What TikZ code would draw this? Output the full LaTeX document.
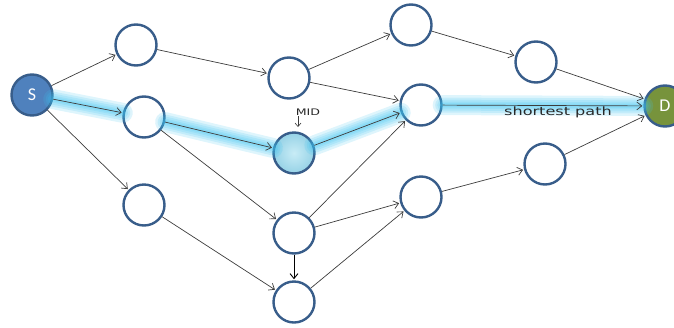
\documentclass[tikz,border=0pt]{standalone}
\usepackage{fontspec}
\setsansfont{Carlito}
\newfontfamily\labelfont{DejaVu Sans}
\usetikzlibrary{arrows.meta}

\definecolor{nodeblue}{RGB}{56,93,138}
\definecolor{sfill}{RGB}{79,129,189}
\definecolor{dfill}{RGB}{119,147,60}
\definecolor{midin}{RGB}{200,236,246}
\definecolor{midout}{RGB}{150,210,230}
\definecolor{glowcyan}{RGB}{60,195,240}
\definecolor{linkgray}{RGB}{60,60,60}
\definecolor{textgray}{RGB}{40,40,40}

\begin{document}
\begin{tikzpicture}[x=1pt,y=-1pt,
  vertex/.style={circle, draw=nodeblue, line width=2.4pt, minimum size=41pt,
                 inner sep=0pt, fill=white},
  link/.style={draw=linkgray, line width=0.7pt,
               -{Straight Barb[length=5pt,width=8pt]}, shorten >=1pt},
  glow/.style={draw=glowcyan, line width=#1, opacity=0.17, line cap=round},
  nodetext/.style={text=white, font=\sffamily\fontsize{18}{18}\selectfont},
  smalltext/.style={text=textgray, font=\labelfont\fontsize{#1}{#1}\selectfont}
]
\useasboundingbox (0,0) rectangle (674,327);
\clip (0,0) rectangle (674,327);

% vertices
\node[vertex, fill=sfill, nodetext] (S) at (32,95) {S};
\node[vertex] (A) at (136,45) {};
\node[vertex] (B) at (144,117) {};
\node[vertex] (C) at (144,205) {};
\node[vertex] (E) at (289,78) {};
\node[vertex, inner color=midin, outer color=midout] (M) at (294,153) {};
\node[vertex] (F) at (294,233) {};
\node[vertex] (G) at (294,302) {};
\node[vertex] (H) at (411,25) {};
\node[vertex] (I) at (421,105) {};
\node[vertex] (J) at (421,197) {};
\node[vertex] (K) at (536,62) {};
\node[vertex] (L) at (545,164) {};
\node[vertex, fill=dfill, nodetext] (D) at (665,106) {D};

% highlighted route
\begin{scope}
  \foreach \w in {20,15,11,7,4} {
    \path[glow=\w pt] (S) -- (B);
    \path[glow=\w pt] (B) -- (M);
    \path[glow=\w pt] (M) -- (I);
    \path[glow=\w pt] (I) -- (D);
  }
\end{scope}

% connectors
\draw[link] (S) -- (A);
\draw[link] (S) -- (B);
\draw[link] (S) -- (C);
\draw[link] (A) -- (E);
\draw[link] (B) -- (M);
\draw[link] (B) -- (F);
\draw[link] (C) -- (G);
\draw[link] (E) -- (H);
\draw[link] (E) -- (I);
\draw[link] (M) -- (I);
\draw[link] (F) -- (I);
\draw[link] (F) -- (J);
\draw[link, draw=black, line width=0.9pt] (F) -- (G);
\draw[link] (G) -- (J);
\draw[link] (H) -- (K);
\draw[link] (K) -- (D);
\draw[link] (I) -- (D);
\draw[link] (J) -- (L);
\draw[link] (L) -- (D);

% labels
\node[smalltext=9, xscale=1.4] (midlabel) at (308,112) {MID};
\coordinate (midfrom) at (298,116);
\coordinate (midto) at (298,128);
\draw[link, line width=0.6pt, -{Straight Barb[length=3.5pt,width=6pt]}] (midfrom) -- (midto);

\node[smalltext=11.5, xscale=1.4] (pathlabel) at (558,112) {shortest path};
\end{tikzpicture}
\end{document}
